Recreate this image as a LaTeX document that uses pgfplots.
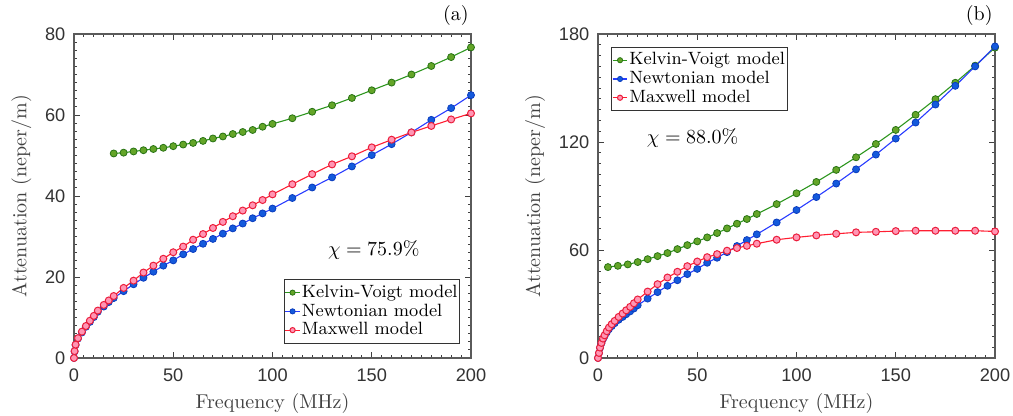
\documentclass[border=0pt]{standalone}
\usepackage{fontspec}
\usepackage{pgfplots}
\pgfplotsset{compat=1.18}
\newfontfamily\ticksf{Liberation Sans}
\definecolor{kvline}{RGB}{45,150,30}
\definecolor{kvfill}{RGB}{100,165,40}
\definecolor{kvedge}{RGB}{40,115,20}
\definecolor{nline}{RGB}{40,60,255}
\definecolor{nfill}{RGB}{20,90,220}
\definecolor{nedge}{RGB}{10,60,190}
\definecolor{mline}{RGB}{255,30,50}
\definecolor{mfill}{RGB}{255,150,180}
\definecolor{medge}{RGB}{235,30,60}
\definecolor{axgray}{RGB}{90,90,90}

\pgfplotsset{
  mystyle/.style={
    width=198.5pt, height=162pt, scale only axis, clip=false,
    xmin=0, xmax=200, xtick={0,50,...,200},
    minor x tick num=9, minor y tick num=9,
    tick align=inside,
    major tick length=3pt, minor tick length=1.6pt,
    axis line style={draw=axgray, line width=0.7pt},
    every tick/.style={black!75, line width=0.45pt},
    tick label style={font=\ticksf\fontsize{9.1}{10}\selectfont, text=black!80},
    xticklabel style={yshift=-1.8pt},
    yticklabel style={xshift=-0.8pt},
    /pgf/number format/assume math mode=true,
    xlabel={Frequency (MHz)}, ylabel={Attenuation (neper/m)},
    label style={font=\fontsize{10}{12}\selectfont, text=black!75},
    xlabel style={yshift=1pt},
    legend cell align=left,
    legend style={font=\fontsize{8.9}{10}\selectfont, draw=black!80, fill=white,
      inner xsep=0.3pt, inner ysep=0.6pt, row sep=-2.3pt,
      nodes={inner xsep=0.7pt}},
    legend image code/.code={\draw[mark repeat=2,mark phase=2,#1,mark size=1.3pt] plot coordinates {(0cm,0cm) (0.13cm,0cm) (0.26cm,0cm)};},
    every axis plot/.append style={line width=0.55pt},
  },
  kv/.style={color=kvline, mark=*, mark size=1.75pt, mark options={fill=kvfill, draw=kvedge, line width=0.4pt}},
  nw/.style={color=nline, mark=*, mark size=1.75pt, mark options={fill=nfill, draw=nedge, line width=0.4pt}},
  mx/.style={color=mline, mark=*, mark size=1.75pt, mark options={fill=mfill, draw=medge, line width=0.5pt}},
}

\begin{document}
\begin{tikzpicture}
\path[use as bounding box] (0,0) rectangle (506.5pt,208pt);

% ---------------- (a) ----------------
\begin{axis}[mystyle, at={(37pt,29pt)}, anchor=south west,
  ymin=0, ymax=80, ytick={0,20,...,80},
  legend style={at={(0.972,0.045)}, anchor=south east}]
\addplot[kv] coordinates {
(20,50.5)(25,50.7)(30,51.0)(35,51.3)(40,51.6)(45,51.9)(50,52.3)(55,52.7)(60,53.1)
(65,53.6)(70,54.2)(75,54.7)(80,55.3)(85,55.8)(90,56.3)(95,57.1)(100,57.8)
(110,59.2)(120,60.8)(130,62.4)(140,64.2)(150,66.1)(160,68.0)(170,70.0)(180,72.1)(190,74.3)(200,76.7)};
\addlegendentry{Kelvin-Voigt model}
\addplot[nw] coordinates {
(0,0)(0.3,1.6)(0.8,3.2)(2,4.8)(4,6.3)(6,7.7)(8,8.9)(10,10.1)(12,11.4)(15,12.7)(17.5,13.8)(20,14.8)
(25,16.5)(30,18.2)(35,19.8)(40,21.3)(45,22.8)(50,24.1)(55,25.6)(60,26.9)(65,28.2)(70,29.4)
(75,30.7)(80,32.0)(85,33.2)(90,34.5)(95,35.7)(100,36.9)
(110,39.5)(120,42.1)(130,44.6)(140,47.3)(150,50.1)(160,52.8)(170,55.7)(180,58.8)(190,61.7)(200,64.9)};
\addlegendentry{Newtonian model}
\addplot[mx] coordinates {
(0,0)(0.3,1.7)(0.8,3.3)(2,4.9)(4,6.5)(6,7.9)(8,9.2)(10,10.4)(12,11.7)(15,13.1)(17.5,14.2)(20,15.3)
(25,17.3)(30,19.1)(35,21.1)(40,22.8)(45,24.5)(50,26.1)(55,27.5)(60,29.2)(65,30.6)(70,32.1)
(75,33.6)(80,35.0)(85,36.4)(90,37.7)(95,39.0)(100,40.4)
(110,42.9)(120,45.4)(130,47.8)(140,49.8)(150,52.0)(160,53.9)(170,55.7)(180,57.3)(190,58.9)(200,60.4)};
\addlegendentry{Maxwell model}
\node[font=\fontsize{10}{12}\selectfont] at (axis cs:151,26.7) {$\chi = 75.9\%$};
\node[anchor=south east, font=\fontsize{10}{12}\selectfont, inner sep=0pt] at (rel axis cs:0.995,1.025) {(a)};
\end{axis}

% ---------------- (b) ----------------
\begin{axis}[mystyle, at={(299pt,29pt)}, anchor=south west,
  ymin=0, ymax=180, ytick={0,60,...,180},
  legend style={at={(0.033,0.96)}, anchor=north west}]
\addplot[kv] coordinates {
(5,50.5)(10,51.2)(15,52.0)(20,53.3)(25,54.9)(30,56.6)(35,58.3)(40,60.5)(45,62.7)(50,64.8)
(55,67.0)(60,69.4)(65,72.0)(70,74.6)(75,77.2)(80,80.0)(90,85.5)(100,91.5)(110,97.8)
(120,104.5)(130,111.5)(140,118.9)(150,126.7)(160,135.1)(170,143.8)(180,152.9)(190,162.4)(200,172.4)};
\addlegendentry{Kelvin-Voigt model}
\addplot[nw] coordinates {
(0,0)(0.5,2.7)(1,5.6)(1.7,8.1)(2.5,10.4)(3.3,12.1)(4.4,14.2)(5.5,16.0)(6.9,17.7)(8.4,19.3)
(10.4,21.2)(12.4,22.8)(14.2,24.3)(16.2,25.9)(18.1,27.5)(20,29.3)
(25,33.0)(30,36.6)(35,40.1)(40,43.2)(45,46.6)(50,49.5)(55,52.9)(60,55.7)(65,58.8)(70,62.2)
(75,65.5)(80,68.7)(90,75.3)(100,82.2)(110,89.4)(120,96.9)(130,104.8)(140,113.0)(150,121.9)
(160,130.8)(170,140.8)(180,151.2)(190,162.0)(200,173.1)};
\addlegendentry{Newtonian model}
\addplot[mx] coordinates {
(0,0)(0.5,2.8)(1,5.8)(1.7,8.4)(2.5,10.8)(3.3,12.6)(4.4,14.9)(5.5,16.9)(6.9,18.8)(8.4,20.6)
(10.4,22.8)(12.4,24.7)(14.2,26.5)(16.2,28.4)(18.1,30.4)(20,32.5)
(25,36.9)(30,41.0)(35,44.7)(40,47.9)(45,51.0)(50,53.6)(55,56.0)(60,57.7)(65,59.6)(70,61.1)
(75,62.3)(80,63.5)(90,65.7)(100,67.0)(110,68.1)(120,69.0)(130,69.8)(140,70.1)(150,70.5)
(160,70.7)(170,70.7)(180,70.7)(190,70.7)(200,70.3)};
\addlegendentry{Maxwell model}
\node[font=\fontsize{10}{12}\selectfont] at (axis cs:47.7,122.2) {$\chi = 88.0\%$};
\node[anchor=south east, font=\fontsize{10}{12}\selectfont, inner sep=0pt] at (rel axis cs:0.995,1.025) {(b)};
\end{axis}
\end{tikzpicture}
\end{document}
